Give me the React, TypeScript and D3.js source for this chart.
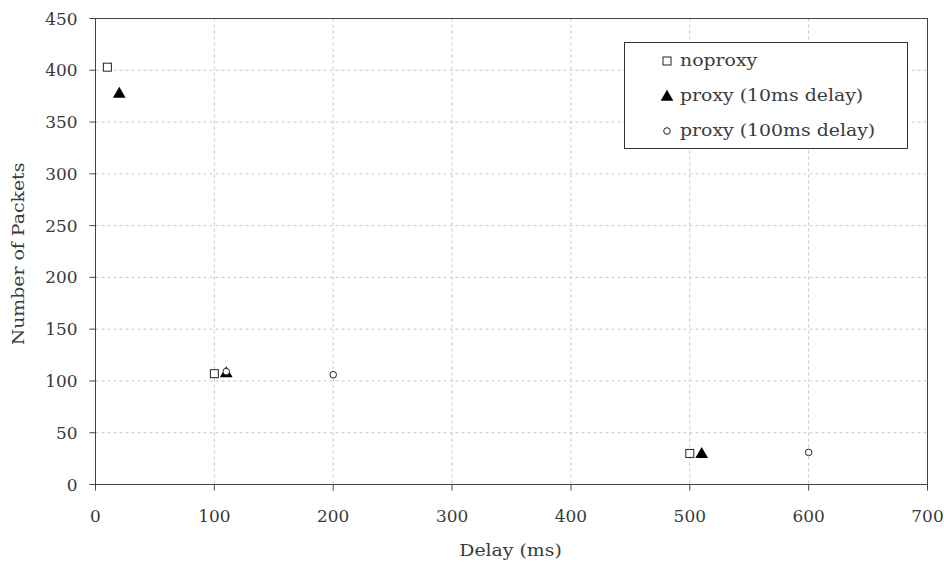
import React from "react";
import * as d3 from "d3";

const xTicks = [0, 100, 200, 300, 400, 500, 600, 700];
const yTicks = [0, 50, 100, 150, 200, 250, 300, 350, 400, 450];

const noproxyX = [10, 100, 500];
const noproxyY = [403, 107, 30];
const proxy10X = [20, 110, 510];
const proxy10Y = [378, 108, 30];
const proxy100X = [110, 200, 600];
const proxy100Y = [109, 106, 31];

const seriesNames = ["noproxy", "proxy (10ms delay)", "proxy (100ms delay)"];

const W = 944;
const H = 563;
const M = { left: 95.5, right: 16.5, top: 18.5, bottom: 78.5 };
const FONT = "'DejaVu Serif', serif";
const TEXT_FILL = "#3a3a3a";

// Wide serif text: DejaVu Serif stretched horizontally around its anchor point
function WideText({
  x,
  y,
  children,
  anchor = "start",
  size = 16,
  stretch = 1.18,
  rotate = 0,
}: {
  x: number;
  y: number;
  children: React.ReactNode;
  anchor?: string;
  size?: number;
  stretch?: number;
  rotate?: number;
}) {
  return (
    <g transform={`translate(${x},${y}) rotate(${rotate}) scale(${stretch},1)`}>
      <text textAnchor={anchor} fontFamily={FONT} fontSize={size} fill={TEXT_FILL}>
        {children}
      </text>
    </g>
  );
}

function Marker({ kind, x, y }: { kind: number; x: number; y: number }) {
  if (kind === 0) {
    return <rect x={x - 4} y={y - 4} width={8} height={8} fill="#fff" stroke="#222" strokeWidth={1} />;
  }
  if (kind === 1) {
    const tri = d3.symbol(d3.symbolTriangle, 70)();
    return <path d={tri as string} transform={`translate(${x},${y + 1})`} fill="#000" />;
  }
  return <circle cx={x} cy={y} r={3.3} fill="#fff" stroke="#222" strokeWidth={1} />;
}

export default function App() {
  const x = d3.scaleLinear().domain([0, 700]).range([M.left, W - M.right]);
  const y = d3.scaleLinear().domain([0, 450]).range([H - M.bottom, M.top]);
  const [x0, x1] = x.range();
  const [y0, y1] = y.range();

  const series = [
    { xs: noproxyX, ys: noproxyY },
    { xs: proxy10X, ys: proxy10Y },
    { xs: proxy100X, ys: proxy100Y },
  ];

  const lg = { x: 624.5, y: 42.5, w: 283, h: 106 };

  return (
    <svg width={W} height={H} style={{ display: "block", position: "absolute", left: 0, top: 0 }}>
      <rect width={W} height={H} fill="#fff" />
      {/* grid */}
      {xTicks.slice(1, -1).map((t) => (
        <line key={"gx" + t} x1={x(t)} x2={x(t)} y1={y1} y2={y0} stroke="#c8c8c8" strokeDasharray="3,3" />
      ))}
      {yTicks.slice(1, -1).map((t) => (
        <line key={"gy" + t} x1={x0} x2={x1} y1={y(t)} y2={y(t)} stroke="#c8c8c8" strokeDasharray="3,3" />
      ))}
      {/* frame */}
      <rect x={x0} y={y1} width={x1 - x0} height={y0 - y1} fill="none" stroke="#444" strokeWidth={1} />
      {/* ticks and labels */}
      {xTicks.map((t) => (
        <g key={"xt" + t}>
          <line x1={x(t)} x2={x(t)} y1={y0} y2={y0 + 6} stroke="#444" />
          <WideText x={x(t)} y={y0 + 37} anchor="middle" size={16} stretch={1.06}>
            {t}
          </WideText>
        </g>
      ))}
      {yTicks.map((t) => (
        <g key={"yt" + t}>
          <line x1={x0 - 6} x2={x0} y1={y(t)} y2={y(t)} stroke="#444" />
          <WideText x={x0 - 18} y={y(t) + 6} anchor="end" size={16} stretch={1.06}>
            {t}
          </WideText>
        </g>
      ))}
      {/* axis titles */}
      <WideText x={(x0 + x1) / 2 - 1} y={556} anchor="middle">
        Delay (ms)
      </WideText>
      <WideText x={24} y={254} anchor="middle" rotate={-90}>
        Number of Packets
      </WideText>
      {/* points */}
      {series.map((s, i) =>
        s.xs.map((v, j) => <Marker key={`m${i}-${j}`} kind={i} x={x(v)} y={y(s.ys[j])} />)
      )}
      {/* legend */}
      <rect x={lg.x} y={lg.y} width={lg.w} height={lg.h} fill="#fff" stroke="#333" />
      {seriesNames.map((n, i) => (
        <g key={"lg" + i}>
          <Marker kind={i} x={667} y={61 + i * 35} />
          <WideText x={680} y={66 + i * 35}>
            {n}
          </WideText>
        </g>
      ))}
    </svg>
  );
}
